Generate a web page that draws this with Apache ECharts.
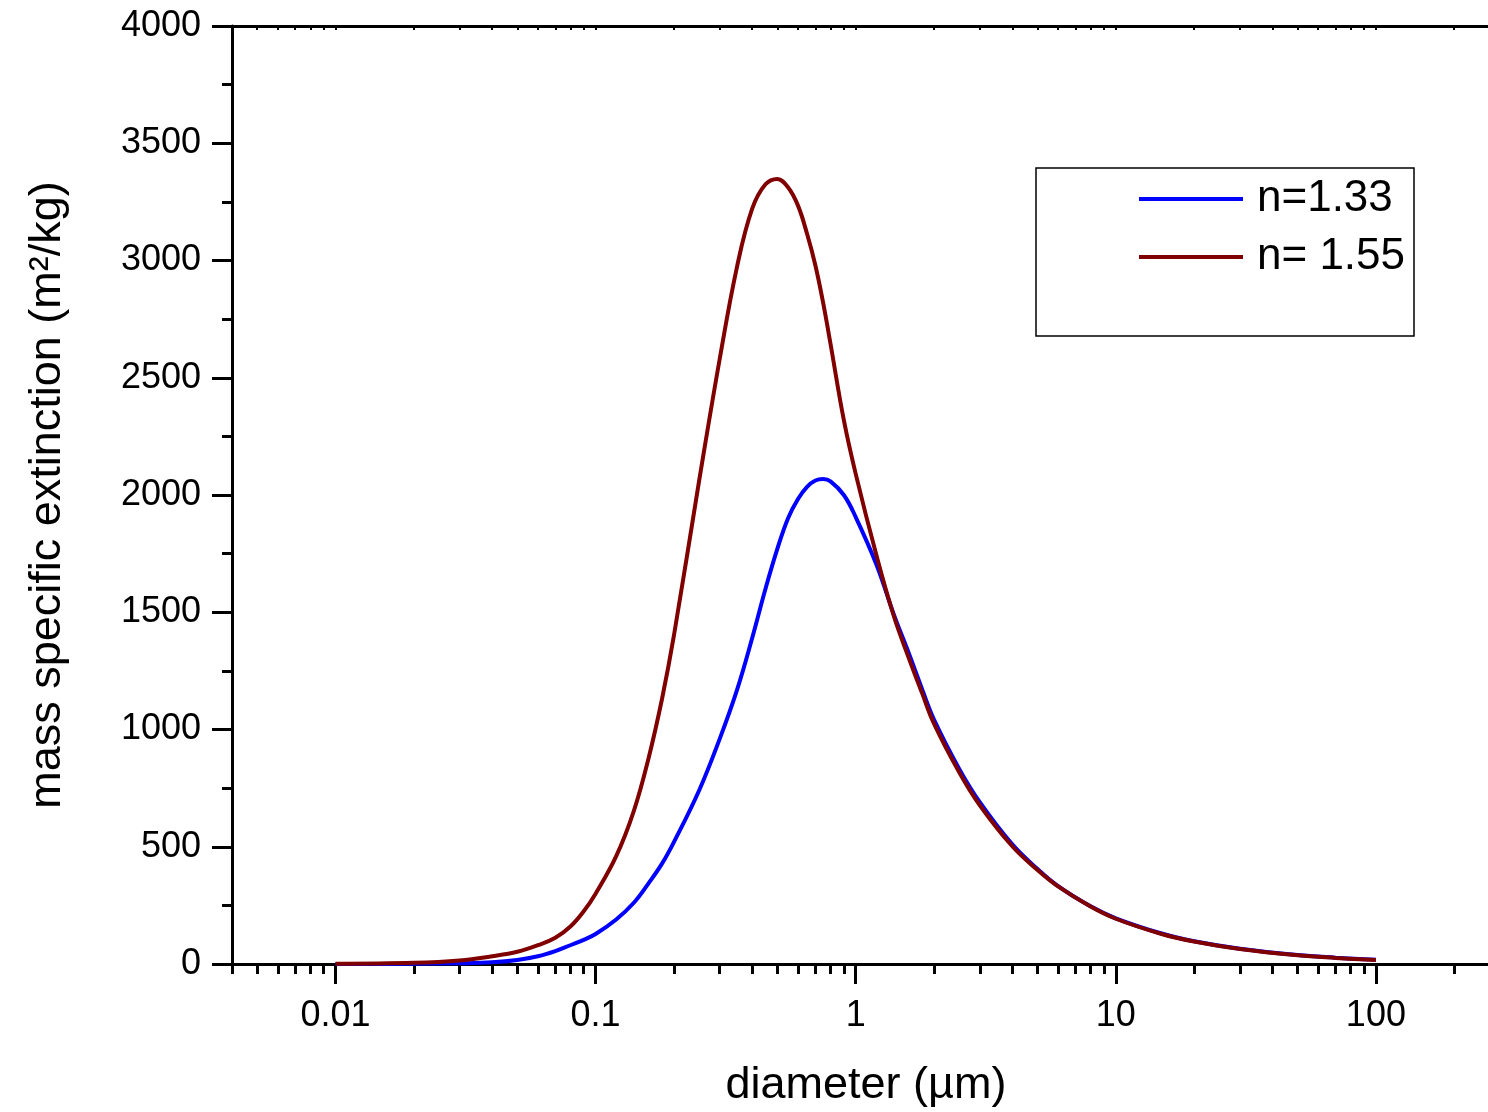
<!DOCTYPE html>
<html><head><meta charset="utf-8">
<script src="https://cdn.jsdelivr.net/npm/echarts@6/dist/echarts.min.js"></script>
<style>html,body{margin:0;padding:0;background:#fff}#c{width:1488px;height:1112px}</style>
</head><body><div id="c"></div>
<script>
const diameters = [0.01,0.02,0.03,0.04,0.05,0.06,0.07,0.08,0.09,0.1,0.12,0.14,0.16,0.18,0.2,0.25,0.3,0.35,0.4,0.45,0.5,0.55,0.6,0.65,0.7,0.75,0.8,0.9,1,1.2,1.4,1.6,1.8,2,2.5,3,4,5,6,8,10,15,20,30,50,70,100];
const ext133 = [0,1,3,7,17,33,55,80,103,128,190,260,345,428,520,740,960,1170,1390,1600,1771,1902,1983,2035,2062,2068,2058,2000,1906,1705,1492,1325,1172,1042,832,690,510,405,332,246,195,130,97,65,38,27,18];
const ext155 = [1,5,15,33,52,80,112,160,225,300,460,650,880,1130,1400,2060,2580,2975,3221,3325,3348,3311,3234,3114,2979,2818,2645,2320,2090,1745,1485,1305,1155,1025,818,677,502,401,331,245,193,128,96,64,37,26,17];
const seriesNames = ['n=1.33', 'n= 1.55'];
const xMajorTicks = [0.01, 0.1, 1, 10, 100];
const xMinorTicks = [0.004,0.005,0.006,0.007,0.008,0.009,0.02,0.03,0.04,0.05,0.06,0.07,0.08,0.09,0.2,0.3,0.4,0.5,0.6,0.7,0.8,0.9,2,3,4,5,6,7,8,9,20,30,40,50,60,70,80,90,200];
const xTitle = 'diameter (µm)';
const yTitle = 'mass specific extinction (m²/kg)';

const FONT = '"Liberation Sans", Arial, sans-serif';
const chart = echarts.init(document.getElementById('c'), null, {renderer: 'canvas'});
const xMin = 0.004, xMax = 300;
const baseX = {type: 'log', logBase: 10, min: xMin, max: xMax, gridIndex: 0, splitLine: {show: false}};
chart.setOption({
  animation: false,
  backgroundColor: '#fff',
  grid: {left: 232, top: 26, right: -12, bottom: 148, containLabel: false, outerBoundsMode: 'none'},
  graphic: [{type: 'rect', shape: {x: 1036, y: 168, width: 378, height: 168}, style: {fill: 'none', stroke: '#000', lineWidth: 1.5}, z: 10}],
  legend: {
    data: seriesNames, orient: 'vertical', left: 1139, top: 174, padding: 0,
    itemWidth: 104, itemHeight: 4, itemGap: 8, icon: 'rect', selectedMode: false,
    textStyle: {fontFamily: FONT, fontSize: 44, color: '#000', lineHeight: 50, padding: [0, 0, 0, 9]}
  },
  xAxis: [
    Object.assign({}, baseX, {
      position: 'bottom', name: xTitle, nameLocation: 'middle', nameGap: 99,
      nameTextStyle: {fontFamily: FONT, fontSize: 45, color: '#000'},
      axisLine: {show: true, lineStyle: {color: '#000', width: 3}},
      axisTick: {show: true, inside: false, length: 20, lineStyle: {color: '#000', width: 3}, customValues: xMajorTicks},
      axisLabel: {show: true, margin: 34, fontFamily: FONT, fontSize: 36, color: '#000', customValues: xMajorTicks,
        formatter: v => String(v)}
    }),
    Object.assign({}, baseX, {
      position: 'bottom', axisLine: {show: false},
      axisTick: {show: true, inside: false, length: 10, lineStyle: {color: '#000', width: 3}, customValues: xMinorTicks},
      axisLabel: {show: false}
    }),
    Object.assign({}, baseX, {
      position: 'top', axisLine: {show: true, lineStyle: {color: '#000', width: 3}},
      axisTick: {show: true, inside: true, length: 4, lineStyle: {color: '#000', width: 2}, customValues: xMajorTicks.concat(xMinorTicks)},
      axisLabel: {show: false}
    })
  ],
  yAxis: [{
    type: 'value', min: 0, max: 4000, interval: 500, position: 'left',
    name: yTitle, nameLocation: 'middle', nameGap: 162, nameRotate: 90,
    nameTextStyle: {fontFamily: FONT, fontSize: 45, color: '#000'},
    axisLine: {show: true, lineStyle: {color: '#000', width: 3}},
    axisTick: {show: true, inside: false, length: 20, lineStyle: {color: '#000', width: 3}},
    minorTick: {show: true, splitNumber: 2, length: 10, lineStyle: {color: '#000', width: 3}},
    axisLabel: {margin: 31, fontFamily: FONT, fontSize: 36, color: '#000', formatter: v => String(v)},
    splitLine: {show: false}
  }],
  series: [
    {name: seriesNames[0], type: 'line', xAxisIndex: 0, yAxisIndex: 0, smooth: 0.4, symbol: 'none',
     color: '#0000ff', lineStyle: {color: '#0000ff', width: 4}, data: diameters.map((d, i) => [d, ext133[i]])},
    {name: seriesNames[1], type: 'line', xAxisIndex: 0, yAxisIndex: 0, smooth: 0.4, symbol: 'none',
     color: '#800000', lineStyle: {color: '#800000', width: 4}, data: diameters.map((d, i) => [d, ext155[i]])}
  ]
});
</script></body></html>
